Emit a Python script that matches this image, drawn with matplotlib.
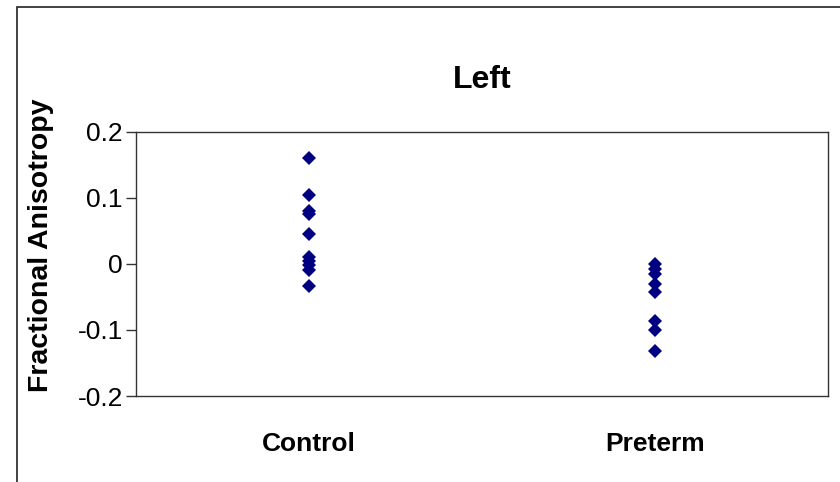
import matplotlib
matplotlib.use("Agg")
import matplotlib.pyplot as plt
from matplotlib.patches import Rectangle

plt.rcParams['font.family'] = ['Liberation Sans', 'DejaVu Sans']

categories = ["Control", "Preterm"]
control_values = [0.160, 0.104, 0.080, 0.076, 0.045, 0.0105, 0.0045, -0.0015, -0.0095, -0.033]
preterm_values = [-0.0005, -0.008, -0.0147, -0.031, -0.042, -0.087, -0.100, -0.132]
yticks = [-0.2, -0.1, 0, 0.1, 0.2]
ytick_labels = ["-0.2", "-0.1", "0", "0.1", "0.2"]
title = "Left"
ylabel = "Fractional Anisotropy"

fig = plt.figure(figsize=(8.4, 4.82), dpi=100)
ax = fig.add_axes([136/840, 1-396/482, (828-136)/840, (396-132)/482])

series = [control_values, preterm_values]
for i, vals in enumerate(series):
    ax.plot([i + 1] * len(vals), vals, linestyle='none', marker='D',
            markersize=7.5, color='#000080', markeredgewidth=0)

ax.set_xlim(0.5, 2.5)
ax.set_ylim(-0.2, 0.2)
ax.set_yticks(yticks)
ax.set_yticklabels(ytick_labels, fontsize=19)
ax.set_xticks([])
for i, c in enumerate(categories):
    ax.text(i + 1, -0.2 - 48/660, c, ha='center', va='center', fontsize=19,
            fontweight='bold', transform=ax.transData, clip_on=False)

ax.tick_params(axis='y', direction='out', length=7, width=1, color='#333333', pad=2.5)
for s in ax.spines.values():
    s.set_color('#333333')
    s.set_linewidth(1)

fig.text(482/840, 1-80/482, title, ha='center', va='center', fontsize=23, fontweight='bold')
fig.text(41/840, 1-245/482, ylabel, ha='center', va='center', fontsize=20.5,
         fontweight='bold', rotation=90)

fig.patches.append(Rectangle((17/840, -0.1), 1.2, 1-7/482+0.1, transform=fig.transFigure,
                             fill=False, edgecolor='#222222', linewidth=1.2))

fig.savefig("out.png", dpi=100)
